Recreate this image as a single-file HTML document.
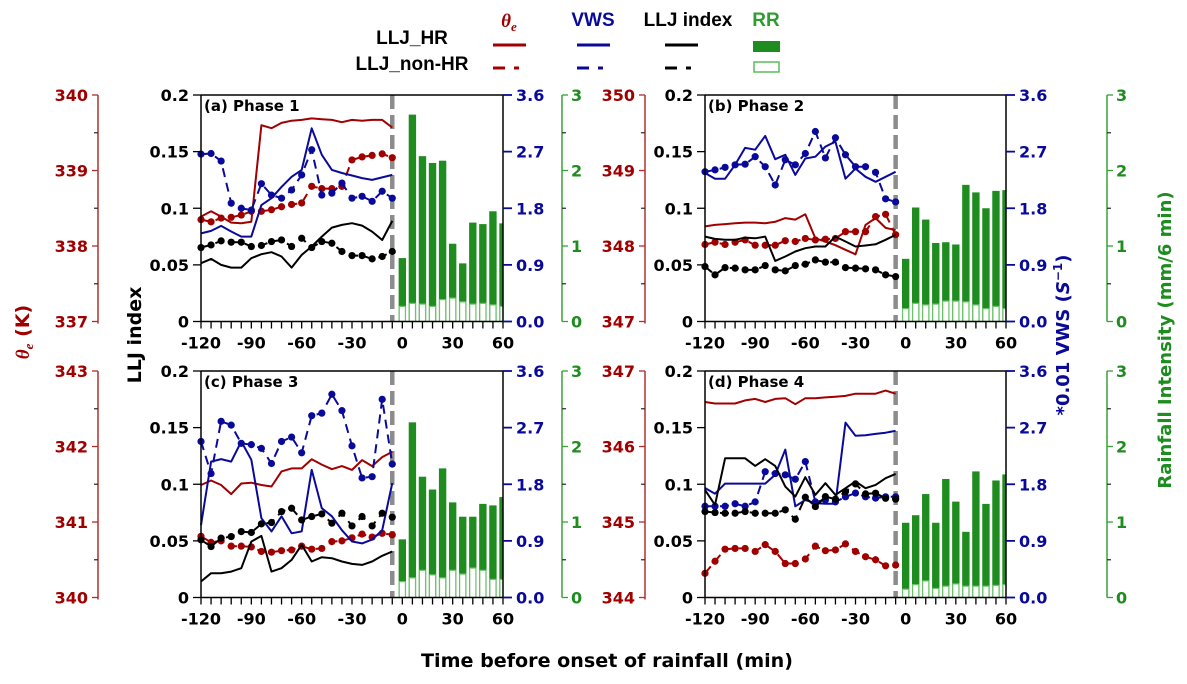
<!DOCTYPE html>
<html><head><meta charset="utf-8"><style>
body{margin:0;background:#fff}
svg{display:block;font-family:"DejaVu Sans","Liberation Sans",sans-serif;font-weight:bold}
</style></head><body>
<svg id="chart" width="1187" height="684" viewBox="0 0 1187 684" xmlns="http://www.w3.org/2000/svg">
<g font-family="Liberation Sans, sans-serif">
 <text x="412" y="44" font-size="19" text-anchor="middle">LLJ_HR</text>
 <text x="412" y="70" font-size="19" text-anchor="middle">LLJ_non-HR</text>
 <text x="509" y="27" font-size="19" fill="#a00000" text-anchor="middle" font-style="italic" font-family="Liberation Serif, serif">θ<tspan font-size="13" dy="4">e</tspan></text>
 <text x="593" y="26" font-size="19" fill="#0a0a9a" text-anchor="middle">VWS</text>
 <text x="688" y="26" font-size="19" text-anchor="middle">LLJ index</text>
 <text x="766" y="26" font-size="19" fill="#2e9c2e" text-anchor="middle">RR</text>
 <line x1="493" y1="45" x2="526" y2="45" stroke="#a00000" stroke-width="3"/>
 <line x1="493" y1="68" x2="526" y2="68" stroke="#a00000" stroke-width="3" stroke-dasharray="12,9,5,50"/>
 <line x1="577" y1="45" x2="610" y2="45" stroke="#0a0a9a" stroke-width="3"/>
 <line x1="577" y1="68" x2="610" y2="68" stroke="#0a0a9a" stroke-width="3" stroke-dasharray="12,9,5,50"/>
 <line x1="665" y1="45" x2="698" y2="45" stroke="#000" stroke-width="3"/>
 <line x1="665" y1="68" x2="698" y2="68" stroke="#000" stroke-width="3" stroke-dasharray="12,9,5,50"/>
 <rect x="753" y="41" width="27" height="11" fill="#1e8c1e"/>
 <rect x="754" y="62" width="25" height="10" fill="#fff" stroke="#5cbc5c" stroke-width="1.5"/>
</g>
<text transform="translate(29,332) rotate(-90)" font-size="19" fill="#a00000" text-anchor="middle"><tspan font-style="italic" font-family="Liberation Serif, serif">θ<tspan font-size="13" dy="4">e</tspan></tspan><tspan dy="-4"> (K)</tspan></text>
<text transform="translate(141,335) rotate(-90)" font-size="19" text-anchor="middle">LLJ index</text>
<text transform="translate(1069,335) rotate(-90)" font-size="18" fill="#0a0a9a" text-anchor="middle">*0.01 VWS (<tspan font-style="italic">S</tspan><tspan font-size="12" dy="-7">−1</tspan><tspan dy="7">)</tspan></text>
<text transform="translate(1171,340) rotate(-90)" font-size="18" fill="#1e8c1e" text-anchor="middle">Rainfall Intensity (mm/6 min)</text>
<text x="607" y="667" font-size="19" text-anchor="middle" textLength="372" lengthAdjust="spacingAndGlyphs">Time before onset of rainfall (min)</text>
</svg>
<script>
const times=[-120,-114,-108,-102,-96,-90,-84,-78,-72,-66,-60,-54,-48,-42,-36,-30,-24,-18,-12,-6];
const rrTimes=[0,6,12,18,24,30,36,42,48,54,60];
const xTickLabels=[-120,-90,-60,-30,0,30,60];
const lljTicks=["0","0.05","0.1","0.15","0.2"];
const vwsTicks=["0.0","0.9","1.8","2.7","3.6"];
const rrTicks=["0","1","2","3"];
const panelTitles=["(a) Phase 1","(b) Phase 2","(c) Phase 3","(d) Phase 4"];
const thetaMins=[337,347,340,344];

const thetaA_HR=[338.39,338.46,338.39,338.31,338.30,338.32,339.60,339.56,339.63,339.66,339.67,339.69,339.68,339.67,339.64,339.67,339.66,339.67,339.67,339.57];
const thetaA_non=[338.35,338.32,338.37,338.38,338.41,338.46,338.46,338.48,338.52,338.55,338.57,338.79,338.76,338.76,338.79,339.14,339.18,339.20,339.22,339.17];
const vwsA_HR=[1.40,1.44,1.52,1.43,1.35,1.35,1.85,1.96,2.14,2.30,2.41,3.07,2.65,2.41,2.36,2.32,2.28,2.25,2.29,2.33];
const vwsA_non=[2.66,2.67,2.55,1.88,1.80,1.77,2.19,2.01,1.96,2.09,2.33,2.73,2.01,2.04,2.20,1.96,1.99,1.91,2.07,1.96];
const lljA_HR=[0.0515,0.0553,0.050,0.0476,0.0476,0.0559,0.0594,0.0612,0.0574,0.0476,0.0588,0.0662,0.075,0.0829,0.0853,0.0868,0.0847,0.0794,0.072,0.0888];
const lljA_non=[0.0653,0.0676,0.0712,0.070,0.070,0.0662,0.0671,0.0706,0.072,0.0662,0.0735,0.0653,0.0706,0.0691,0.0618,0.0582,0.0582,0.0553,0.0574,0.0618];
const rrA_HR=[0.84,2.74,2.19,2.10,2.13,1.03,0.77,1.31,1.29,1.46,1.30];
const rrA_non=[0.20,0.24,0.23,0.20,0.29,0.31,0.26,0.23,0.24,0.22,0.20];

const thetaB_HR=[348.26,348.28,348.29,348.30,348.31,348.31,348.30,348.32,348.37,348.35,348.42,348.10,348.06,348.01,347.95,347.89,348.28,348.37,348.24,348.21];
const thetaB_non=[348.02,348.05,348.02,348.05,348.08,348.01,348.01,348.01,348.07,348.06,348.10,348.08,348.09,348.10,348.19,348.19,348.19,348.39,348.42,348.15];
const vwsB_HR=[2.36,2.27,2.27,2.49,2.76,2.73,2.95,2.58,2.65,2.33,2.59,2.62,2.78,2.86,2.27,2.43,2.30,2.22,2.30,2.38];
const vwsB_non=[2.38,2.41,2.45,2.49,2.50,2.62,2.46,2.17,2.57,2.49,2.67,3.02,2.60,2.92,2.65,2.46,2.46,2.37,1.95,1.90];
const lljB_HR=[0.075,0.0729,0.0721,0.0721,0.0741,0.0735,0.075,0.0535,0.0574,0.0618,0.0647,0.0662,0.0662,0.075,0.0706,0.0662,0.0671,0.0682,0.0721,0.0765];
const lljB_non=[0.0485,0.0412,0.0476,0.0471,0.0456,0.0456,0.0494,0.0456,0.0447,0.0494,0.0506,0.0544,0.0524,0.0524,0.0476,0.0471,0.0465,0.0456,0.0412,0.0397];
const rrB_HR=[0.83,1.51,1.35,1.04,1.05,1.02,1.81,1.71,1.50,1.73,1.74];
const rrB_non=[0.17,0.24,0.22,0.23,0.27,0.27,0.26,0.22,0.17,0.20,0.17];

const thetaC_HR=[341.49,341.55,341.49,341.37,341.51,341.52,341.49,341.47,341.67,341.71,341.71,341.83,341.76,341.70,341.74,341.69,341.82,341.74,341.86,341.93];
const thetaC_non=[340.81,340.73,340.75,340.68,340.68,340.67,340.61,340.60,340.62,340.63,340.68,340.64,340.65,340.74,340.75,340.79,340.84,340.80,340.85,340.83];
const vwsC_HR=[1.15,2.16,2.20,2.16,2.48,2.19,1.26,1.05,1.29,1.02,1.05,2.03,1.42,1.29,1.07,0.89,0.86,0.92,1.07,1.82];
const vwsC_non=[2.48,1.97,2.80,2.74,2.45,2.43,2.37,2.13,2.48,2.55,2.30,2.89,2.93,3.23,2.97,2.41,1.90,1.92,3.15,2.12];
const lljC_HR=[0.0141,0.0215,0.0215,0.0229,0.0259,0.0494,0.0544,0.0229,0.0259,0.0332,0.0465,0.0318,0.0356,0.0347,0.0318,0.0297,0.0288,0.0318,0.0368,0.0406];
const lljC_non=[0.0509,0.045,0.0524,0.0538,0.0582,0.0574,0.065,0.0662,0.0759,0.0788,0.0685,0.0715,0.0738,0.0656,0.0744,0.0632,0.0715,0.0632,0.0744,0.0709];
const rrC_HR=[0.77,2.32,1.60,1.43,1.71,1.26,1.07,1.07,1.24,1.22,1.33];
const rrC_non=[0.21,0.26,0.36,0.30,0.26,0.36,0.31,0.39,0.36,0.24,0.24];

const thetaD_HR=[346.59,346.57,346.57,346.57,346.61,346.63,346.59,346.63,346.64,346.56,346.64,346.64,346.65,346.66,346.67,346.70,346.70,346.70,346.74,346.70];
const thetaD_non=[344.32,344.48,344.64,344.65,344.65,344.61,344.70,344.61,344.45,344.45,344.51,344.68,344.62,344.63,344.71,344.61,344.54,344.50,344.42,344.43];
const vwsD_HR=[1.74,1.65,1.81,1.81,1.81,1.81,1.81,1.95,2.35,1.45,1.55,1.50,1.49,1.49,2.78,2.57,2.58,2.60,2.62,2.65];
const vwsD_non=[1.45,1.45,1.45,1.49,1.45,1.52,2.00,1.97,1.95,1.88,2.16,1.52,1.55,1.52,1.60,1.66,1.60,1.58,1.60,1.60];
const lljD_HR=[0.095,0.0818,0.1229,0.1229,0.1229,0.1162,0.1221,0.1162,0.0979,0.0891,0.1062,0.0906,0.1009,0.0906,0.0965,0.1024,0.0965,0.0994,0.1053,0.1091];
const lljD_non=[0.0759,0.075,0.0744,0.0744,0.0759,0.0744,0.0744,0.0744,0.0774,0.0691,0.0885,0.0803,0.0891,0.0868,0.0935,0.1003,0.0915,0.0921,0.0876,0.0868];
const rrD_HR=[0.99,1.09,1.37,0.99,1.57,1.27,0.87,1.67,1.24,1.55,1.63];
const rrD_non=[0.11,0.17,0.22,0.12,0.15,0.18,0.15,0.15,0.15,0.16,0.17];

const panelData=[
 [thetaA_HR,thetaA_non,vwsA_HR,vwsA_non,lljA_HR,lljA_non,rrA_HR,rrA_non],
 [thetaB_HR,thetaB_non,vwsB_HR,vwsB_non,lljB_HR,lljB_non,rrB_HR,rrB_non],
 [thetaC_HR,thetaC_non,vwsC_HR,vwsC_non,lljC_HR,lljC_non,rrC_HR,rrC_non],
 [thetaD_HR,thetaD_non,vwsD_HR,vwsD_non,lljD_HR,lljD_non,rrD_HR,rrD_non]];

const NS="http://www.w3.org/2000/svg";
const svg=document.getElementById('chart');
const RED="#a00000",BLUE="#0a0a9a",GREEN="#1e8c1e",LGREEN="#6cc46c";
function mk(tag,attrs,parent){const e=document.createElementNS(NS,tag);for(const k in attrs)e.setAttribute(k,attrs[k]);(parent||svg).appendChild(e);return e;}
function txt(s,attrs,parent){const e=mk('text',attrs,parent);e.textContent=s;return e;}

const layout=[
 {x0:201,x1:503,y0:95,y1:321.5,thX:98,rrX:562},
 {x0:705,x1:1006,y0:95,y1:321.5,thX:645,rrX:1107},
 {x0:201,x1:503,y0:371,y1:597.5,thX:98,rrX:562},
 {x0:705,x1:1006,y0:371,y1:597.5,thX:645,rrX:1107}];

layout.forEach((L,pi)=>{
 const g=mk('g',{});
 
 
 const d=panelData[pi], thMin=thetaMins[pi];
 const X=t=>L.x0+(t+120)/180*(L.x1-L.x0);
 const H=L.y1-L.y0;
 const yL=v=>L.y1-v/0.2*H;
 const yV=v=>L.y1-v/3.6*H;
 const yR=v=>L.y1-v/3*H;
 const yT=v=>L.y1-(v-thMin)/3*H;
 // bars
 const bw=4.4/180*(L.x1-L.x0);
 const clipId='clip'+pi;
 const cp=mk('clipPath',{id:clipId},g);
 mk('rect',{x:L.x0,y:L.y0,width:L.x1-L.x0,height:H},cp);
 const bg=mk('g',{'clip-path':'url(#'+clipId+')'},g);
 rrTimes.forEach((t,i)=>{
  const b=mk('rect',{x:X(t)-bw/2,y:yR(d[6][i]),width:bw,height:L.y1-yR(d[6][i]),fill:GREEN},bg);
  
  
  const h=mk('rect',{x:X(t)-bw/2+0.6,y:yR(d[7][i]),width:bw-1.2,height:L.y1-yR(d[7][i]),fill:'#fff',stroke:LGREEN,'stroke-width':1.2},bg);
  
  
 });
 // onset line
 const ol=mk('line',{x1:X(-6),x2:X(-6),y1:L.y0,y2:L.y1,stroke:'#8c8c8c','stroke-width':4.5,'stroke-dasharray':'14,6'},g);
 
 
 // series
 const series=[[d[0],yT,RED,false,'theta-hr'],[d[1],yT,RED,true,'theta-nonhr'],[d[2],yV,BLUE,false,'vws-hr'],[d[3],yV,BLUE,true,'vws-nonhr'],[d[4],yL,'#000',false,'llj-hr'],[d[5],yL,'#000',true,'llj-nonhr']];
 series.forEach(s=>{
  const pts=times.map((t,i)=>X(t).toFixed(1)+','+s[1](s[0][i]).toFixed(1)).join(' ');
  const pl=mk('polyline',{points:pts,fill:'none',stroke:s[2],'stroke-width':2,'stroke-linejoin':'round'},g);
  if(s[3])pl.setAttribute('stroke-dasharray','9,6');
  
  
  if(s[3])times.forEach((t,i)=>{
   const c=mk('circle',{cx:X(t),cy:s[1](s[0][i]),r:3.6,fill:s[2]},g);
   
   
  });
 });
 // frame
 const fr=mk('path',{d:`M${L.x0},${L.y0}H${L.x1}M${L.x0},${L.y0}V${L.y1}H${L.x1}`,stroke:'#000','stroke-width':1.5,fill:'none'},g);
 
 
 const vs=mk('line',{x1:L.x1,x2:L.x1,y1:L.y0,y2:L.y1,stroke:'#000','stroke-width':1.5},g);
 
 
 // x ticks
 for(let t=-120;t<=60;t+=6){mk('line',{x1:X(t),x2:X(t),y1:L.y1,y2:L.y1+7,stroke:'#000','stroke-width':1.3},g);}
 xTickLabels.forEach(v=>{const e=txt(String(v),{x:X(v),y:L.y1+27,'font-size':16,'text-anchor':'middle'},g);
  });
 // llj ticks
 lljTicks.forEach((s,i)=>{const y=yL(i*0.05);mk('line',{x1:L.x0-8,x2:L.x0,y1:y,y2:y,stroke:'#000','stroke-width':1.3},g);
  const e=txt(s,{x:L.x0-12,y:y+6,'font-size':16,'text-anchor':'end'},g);
  });
 // vws ticks
 vwsTicks.forEach((s,i)=>{const y=yV(i*0.9);mk('line',{x1:L.x1,x2:L.x1+9,y1:y,y2:y,stroke:BLUE,'stroke-width':1.8},g);
  const e=txt(s,{x:L.x1+13,y:y+6,'font-size':16,fill:BLUE},g);
  });
 // rr axis
 mk('line',{x1:L.rrX,x2:L.rrX,y1:L.y0,y2:L.y1,stroke:'#3aa03a','stroke-width':1.5},g);
 for(let k=0;k<=6;k++){const y=yR(k*0.5);mk('line',{x1:L.rrX,x2:L.rrX+(k%2?4:6),y1:y,y2:y,stroke:k%2?'#333':'#3aa03a','stroke-width':1.3},g);}
 rrTicks.forEach((s,i)=>{const e=txt(s,{x:L.rrX+9,y:yR(i)+6,'font-size':16,fill:GREEN},g);
  });
 // theta axis
 mk('line',{x1:L.thX,x2:L.thX,y1:L.y0,y2:L.y1+2,stroke:'#b03030','stroke-width':1.5},g);
 for(let k=0;k<=6;k++){const y=yT(thMin+k*0.5);mk('line',{x1:L.thX-(k%2?4:6),x2:L.thX,y1:y,y2:y,stroke:k%2?'#333':'#b03030','stroke-width':1.3},g);}
 for(let k=0;k<=3;k++){const e=txt(String(thMin+k),{x:L.thX-10,y:yT(thMin+k)+6,'font-size':16,fill:RED,'text-anchor':'end'},g);
  }
 const tt=txt(panelTitles[pi],{x:L.x0+3,y:L.y0+16,'font-size':15},g);
 
 
});
</script>
</body></html>
